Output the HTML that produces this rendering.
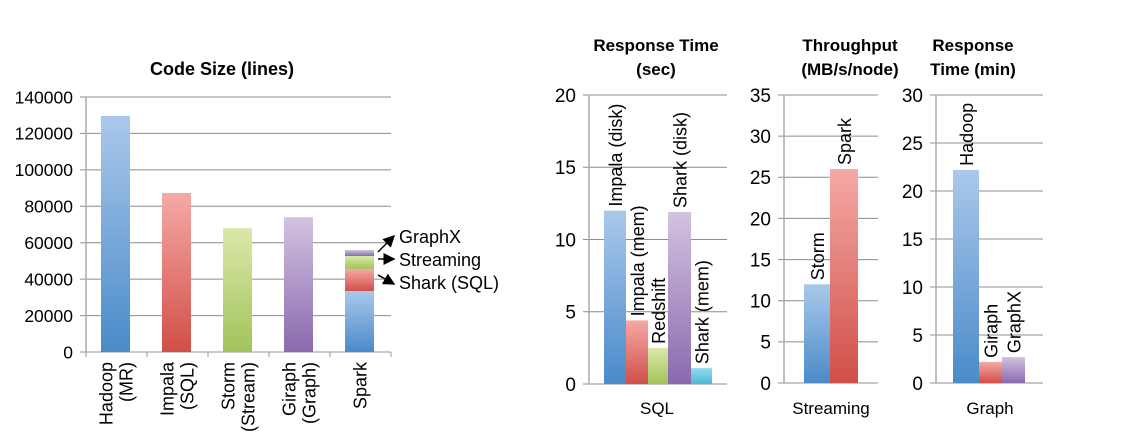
<!DOCTYPE html>
<html><head><meta charset="utf-8"><style>
html,body{margin:0;padding:0;background:#fff;}
svg{display:block;font-family:"Liberation Sans",Arial,sans-serif;}
</style></head><body>
<svg id="c" width="1138" height="445" viewBox="0 0 1138 445" xmlns="http://www.w3.org/2000/svg">
<defs>
<linearGradient id="gb" x1="0" y1="0" x2="0" y2="1"><stop offset="0" stop-color="#aac8eb"/><stop offset="1" stop-color="#4a8bc9"/></linearGradient>
<linearGradient id="gr" x1="0" y1="0" x2="0" y2="1"><stop offset="0" stop-color="#f5a9a6"/><stop offset="1" stop-color="#d14f48"/></linearGradient>
<linearGradient id="gg" x1="0" y1="0" x2="0" y2="1"><stop offset="0" stop-color="#dbe8a9"/><stop offset="1" stop-color="#a2c35a"/></linearGradient>
<linearGradient id="gp" x1="0" y1="0" x2="0" y2="1"><stop offset="0" stop-color="#d2c3e0"/><stop offset="1" stop-color="#8a69ae"/></linearGradient>
<linearGradient id="gc" x1="0" y1="0" x2="0" y2="1"><stop offset="0" stop-color="#92dbec"/><stop offset="1" stop-color="#4bbbd6"/></linearGradient>
<marker id="ar" markerWidth="8" markerHeight="8" refX="7" refY="4" orient="auto"><path d="M0,0 L8,4 L0,8 z" fill="#000"/></marker>
</defs>
</svg>
<script>
// Chart 1: code size
const codeCats = ["Hadoop\n(MR)", "Impala\n(SQL)", "Storm\n(Stream)", "Giraph\n(Graph)", "Spark"];
const codeVals = [129600, 87300, 68000, 74000, 33500];
const codeFills = ["gb","gr","gg","gp","gb"];
const sparkStackNames = ["Shark (SQL)", "Streaming", "GraphX"];
const sparkStackVals = [12100, 7100, 3300];
const sparkStackFills = ["gr","gg","gp"];
const codeTicks = [0,20000,40000,60000,80000,100000,120000,140000];
// Chart 2: SQL
const sqlNames = ["Impala (disk)","Impala (mem)","Redshift","Shark (disk)","Shark (mem)"];
const sqlVals = [12.0, 4.4, 2.5, 11.9, 1.1];
const sqlFills = ["gb","gr","gg","gp","gc"];
const sqlTicks = [0,5,10,15,20];
// Chart 3: streaming
const strNames = ["Storm","Spark"];
const strVals = [12.0, 26.0];
const strFills = ["gb","gr"];
const strTicks = [0,5,10,15,20,25,30,35];
// Chart 4: graph
const grNames = ["Hadoop","Giraph","GraphX"];
const grVals = [22.2, 2.2, 2.7];
const grFills = ["gb","gr","gp"];
const grTicks = [0,5,10,15,20,25,30];

const svg = document.getElementById('c');
const NS = "http://www.w3.org/2000/svg";
function mk(tag, attrs, parent){const e=document.createElementNS(NS,tag);for(const k in attrs)e.setAttribute(k,attrs[k]);(parent||svg).appendChild(e);return e;}

function axes(x0,x1,y0,y1,ticks,fs,lblX,name){
  const max=ticks[ticks.length-1];
  const ys=v=>y0-(v/max)*(y0-y1);
  ticks.forEach(t=>{
    const l=mk('line',{x1:x0-6,x2:x1,y1:ys(t),y2:ys(t),stroke:'#8c8c8c','stroke-width':1});
    
    
    const tx=mk('text',{x:lblX,y:ys(t)+fs*0.36,'font-size':fs,'text-anchor':'end',fill:'#000'});
    tx.textContent=t;
    
    
  });
  const a=mk('line',{x1:x0,x2:x0,y1:y1,y2:y0,stroke:'#aaa','stroke-width':1.5});
  
  
  return ys;
}
function title(x,lines,y,fs,name){
  lines.forEach((s,i)=>{const t=mk('text',{x:x,y:y+i*24,'font-size':fs,'font-weight':'bold','text-anchor':'middle'});t.textContent=s;
  
  });
}
function bar(x,w,yTop,yBot,fill,name){
  const r=mk('rect',{x:x,y:yTop,width:w,height:Math.max(0,yBot-yTop),fill:'url(#'+fill+')'});
  
  
  return r;
}
function vlabel(x,y,s,fs,anchor,name){
  const t=mk('text',{x:x,y:y,'font-size':fs,'text-anchor':anchor,transform:'rotate(-90 '+x+' '+y+')'});
  t.textContent=s;
  
  
}

// ---- Chart 1
{
  const x0=86,x1=391,y0=352,y1=97;
  const ys=axes(x0,x1,y0,y1,codeTicks,17.5,73,'code-size');
  title(222,["Code Size (lines)"],75,18,'code-size-title');
  const cw=(x1-x0)/codeCats.length;
  mk('line',{x1:x0,x2:x1,y1:y0,y2:y0,stroke:'#999'});
  for(let i=0;i<=codeCats.length;i++){mk('line',{x1:x0+i*cw,x2:x0+i*cw,y1:y0,y2:y0+5,stroke:'#999'});}
  codeCats.forEach((c,i)=>{
    const bx=x0+i*cw+15, bw=cw-32;
    bar(bx,bw,ys(codeVals[i]),y0,codeFills[i],'bar-'+c.split('\n')[0].toLowerCase());
    const lines=c.split('\n');
    const cx=x0+i*cw+cw/2;
    lines.forEach((s,j)=>{
      const off=(j-(lines.length-1)/2)*20;
      vlabel(cx+off+6,362,s,18,'end','category-label');
    });
    if(i===codeCats.length-1){
      let acc=codeVals[i];
      sparkStackVals.forEach((v,k)=>{
        bar(bx,bw,ys(acc+v),ys(acc),sparkStackFills[k],'bar-spark-'+sparkStackNames[k].toLowerCase().replace(/[^a-z]+/g,'-'));
        const mid=ys(acc+v/2);
        const ly=[286,263,240][k];
        const ax=[[378,mid-5,394,ly-2],[378,ly-4,394,ly-4],[378,ly+12,394,ly-4]][k];
        const a=mk('line',{x1:ax[0],y1:ax[1],x2:ax[2],y2:ax[3],stroke:'#000','stroke-width':1.5,'marker-end':'url(#ar)'});
        
        
        const t=mk('text',{x:399,y:ly+3,'font-size':18});
        t.textContent=sparkStackNames[k];
        
        
        acc+=v;
      });
    }
  });
}

function small(x0,x1,y0,y1,ticks,names,vals,fills,bx0,bws,titleLines,tx,xl,xlx,name){
  const ys=axes(x0,x1,y0,y1,ticks,19,x0-13,name);
  title(tx,titleLines,51,17,name+'-title');
  let x=bx0;
  names.forEach((n,i)=>{
    const top=ys(vals[i]);
    bar(x,bws[i],top,y0,fills[i],'bar-'+n.toLowerCase().replace(/[^a-z]+/g,'-'));
    vlabel(x+bws[i]/2+7,top-4,n,18,'start','bar-label');
    x+=bws[i];
  });
  const t=mk('text',{x:xlx,y:414,'font-size':17,'text-anchor':'middle'});
  t.textContent=xl;
  
  
}
small(589,727,384,95,sqlTicks,sqlNames,sqlVals,sqlFills,604,[22,22,20,23,21],["Response Time","(sec)"],656,"SQL",657,'sql');
small(784,878,383,95,strTicks,strNames,strVals,strFills,804,[26,28],["Throughput","(MB/s/node)"],850,"Streaming",831,'streaming');
small(936,1043,383,95,grTicks,grNames,grVals,grFills,953,[26,23,23],["Response","Time (min)"],973,"Graph",990,'graph');
</script>
</body></html>
